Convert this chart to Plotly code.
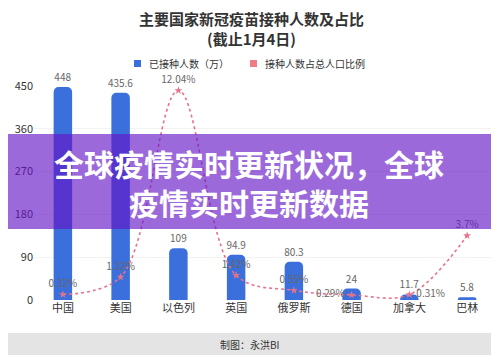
import plotly.graph_objects as go

countries = ["中国", "美国", "以色列", "英国", "俄罗斯", "德国", "加拿大", "巴林"]
vaccinated = [448, 435.6, 109, 94.9, 80.3, 24, 11.7, 5.8]
ratio_pct = [0.32, 1.32, 12.04, 1.42, 0.55, 0.29, 0.31, 3.7]
ratio_pos = ["top center", "top center", "top center", "top center",
             "top center", "middle left", "middle right", "top center"]
y_ticks = [0, 90, 180, 270, 360, 450]
series_names = ["已接种人数（万）", "接种人数占总人口比例"]

FONT = "Noto Sans CJK SC, Noto Sans, sans-serif"
BLUE = "#3b6fdc"
PINK = "#e6738a"
PINK_KEY = "#ef7b86"

# page has an 8px body margin; figure is drawn at screen offset (8, 8)
OFF = 8
W, H = 499 - OFF, 364 - OFF
# plot area on screen: x 34..496, y 86..300
L, R, T, B = 34 - OFF, 3, 86 - OFF, 364 - 300
PW, PH = W - L - R, H - T - B


def px(x):
    return (x - OFF - L) / PW


def py(y):
    return (H - B - (y - OFF)) / PH


ratio_text = []
for v, pos in zip(ratio_pct, ratio_pos):
    t = f"{v:g}%"
    if pos == "middle right":
        t = "\u00a0" + t
    elif pos == "middle left":
        t = t + "\u00a0"
    ratio_text.append(t)

fig = go.Figure()
fig.add_trace(go.Bar(
    x=countries, y=vaccinated, name=series_names[0],
    marker=dict(color=BLUE, line=dict(width=0)),
    width=0.32,
    text=[f"{v:g}" for v in vaccinated], textposition="outside",
    constraintext="none",
    textfont=dict(size=10, color="#666666"), cliponaxis=False,
    showlegend=False,
))
fig.add_trace(go.Scatter(
    x=countries, y=ratio_pct, yaxis="y2", mode="lines+markers+text",
    name=series_names[1],
    line=dict(color=PINK, width=1.6, dash="dot", shape="spline", smoothing=1.0),
    marker=dict(symbol="star", size=6, color=PINK),
    text=ratio_text, textposition=ratio_pos,
    textfont=dict(size=10, color="#666666"), showlegend=False, cliponaxis=False,
))

fig.update_layout(
    width=W, height=H,
    margin=dict(l=L, r=R, t=T, b=B),
    paper_bgcolor="white", plot_bgcolor="white",
    font=dict(family=FONT, color="#333333"),
    barcornerradius=5,
    showlegend=False,
    xaxis=dict(
        showgrid=False, showline=False, zeroline=False,
        tickfont=dict(size=11, color="#333333"), ticks="", automargin=False,
    ),
    yaxis=dict(
        range=[0, 450], tickvals=y_ticks, showgrid=True, gridcolor="#f2f2f2",
        zeroline=False, showline=False, automargin=False,
        tickfont=dict(size=11, color="#333333"), ticks="",
    ),
    yaxis2=dict(
        range=[0, 12.3], overlaying="y", side="right", visible=False,
    ),
    shapes=[
        # legend keys
        dict(type="rect", xref="paper", yref="paper",
             x0=px(134), x1=px(141), y0=py(67), y1=py(60),
             fillcolor=BLUE, line=dict(width=0)),
        dict(type="rect", xref="paper", yref="paper",
             x0=px(250), x1=px(257), y0=py(67), y1=py(60),
             fillcolor=PINK_KEY, line=dict(width=0)),
        # overlay band
        dict(type="rect", xref="paper", yref="paper",
             x0=px(-10), x1=px(510), y0=py(229), y1=py(134),
             fillcolor="rgba(100,20,198,0.64)", line=dict(width=0), layer="above"),
        # footer
        dict(type="rect", xref="paper", yref="paper",
             x0=px(3), x1=px(497), y0=py(355), y1=py(333),
             fillcolor="#e4e4e4", line=dict(width=0), layer="below"),
    ],
    annotations=[
        dict(text="<b>主要国家新冠疫苗接种人数及占比<br>(截止1月4日)</b>",
             xref="paper", yref="paper", x=px(251), y=py(28),
             xanchor="center", yanchor="middle", showarrow=False,
             font=dict(size=15, color="#333333", family=FONT)),
        dict(text=series_names[0], xref="paper", yref="paper",
             x=px(147), y=py(63.5), xanchor="left", yanchor="middle",
             showarrow=False, font=dict(size=10, color="#333333", family=FONT)),
        dict(text=series_names[1], xref="paper", yref="paper",
             x=px(263), y=py(63.5), xanchor="left", yanchor="middle",
             showarrow=False, font=dict(size=10, color="#333333", family=FONT)),
        dict(text="<b>全球疫情实时更新状况，全球<br>疫情实时更新数据</b>",
             xref="paper", yref="paper", x=px(249), y=py(182),
             xanchor="center", yanchor="middle", showarrow=False,
             font=dict(size=30, color="white", family=FONT)),
        dict(text="制图：永洪BI", xref="paper", yref="paper",
             x=px(250), y=py(344), xanchor="center", yanchor="middle",
             showarrow=False, font=dict(size=10, color="#333333", family=FONT)),
    ],
)

fig.write_html("out.html")
